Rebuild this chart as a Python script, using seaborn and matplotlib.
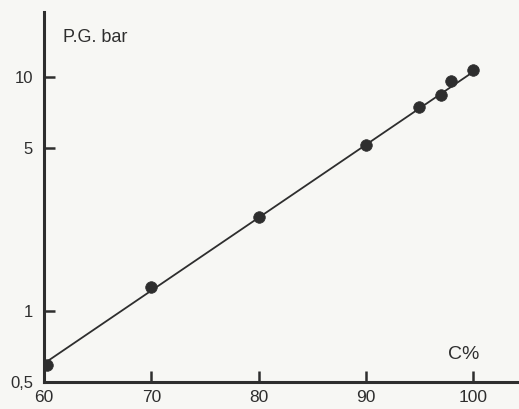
import matplotlib
matplotlib.use("Agg")
import matplotlib.pyplot as plt
import seaborn as sns
import pandas as pd

# Data
c_pct = [60.3, 70, 80, 90, 95, 97, 98, 100]
pg_bar = [0.59, 1.27, 2.53, 5.12, 7.44, 8.41, 9.64, 10.7]
line_c = [60, 100.5]
line_pg = [0.60, 10.9]
y_ticks = [0.5, 1, 5, 10]
y_ticklabels = ["0,5", "1", "5", "10"]
x_ticks = [60, 70, 80, 90, 100]

sns.set_style("ticks")
plt.rcParams["font.family"] = ["Liberation Sans", "DejaVu Sans"]
plt.rcParams["xtick.direction"] = "in"
plt.rcParams["ytick.direction"] = "in"

bg = "#f7f7f4"
ink = "#2e2e2e"

fig = plt.figure(figsize=(5.19, 4.09), dpi=100, facecolor=bg)
ax = fig.add_axes([0.085, 0.066, 0.915, 0.905])
ax.set_facecolor(bg)

pts = pd.DataFrame({"C": c_pct, "PG": pg_bar})
ln = pd.DataFrame({"C": line_c, "PG": line_pg})

sns.lineplot(data=ln, x="C", y="PG", ax=ax, color=ink, linewidth=1.3)
sns.scatterplot(data=pts, x="C", y="PG", ax=ax, color=ink, s=70,
                edgecolor=ink, linewidth=0.5, zorder=3)

ax.set_yscale("log")
ax.set_xlim(60, 104.3)
ax.set_ylim(0.5, 19)
ax.set_yticks(y_ticks)
ax.set_yticklabels(y_ticklabels)
ax.yaxis.set_minor_locator(matplotlib.ticker.NullLocator())
ax.set_xticks(x_ticks)
ax.set_xticklabels([str(v) for v in x_ticks])

ax.tick_params(axis="both", which="major", direction="in", length=8,
               width=1.8, color=ink, labelsize=12, labelcolor=ink,
               bottom=True, left=True, top=False, right=False)
ax.tick_params(axis="x", pad=6, labelsize=12.5)
ax.tick_params(axis="y", pad=8)

for side in ["top", "right"]:
    ax.spines[side].set_visible(False)
for side in ["left", "bottom"]:
    ax.spines[side].set_linewidth(2.2)
    ax.spines[side].set_color(ink)

ax.set_xlabel("")
ax.set_ylabel("")
ax.text(0.04, 0.93, "P.G. bar", transform=ax.transAxes, fontsize=13,
        color=ink, ha="left", va="center")
ax.text(0.85, 0.073, "C%", transform=ax.transAxes, fontsize=14,
        color=ink, ha="left", va="center")

fig.savefig("out.png", dpi=100, facecolor=bg)
